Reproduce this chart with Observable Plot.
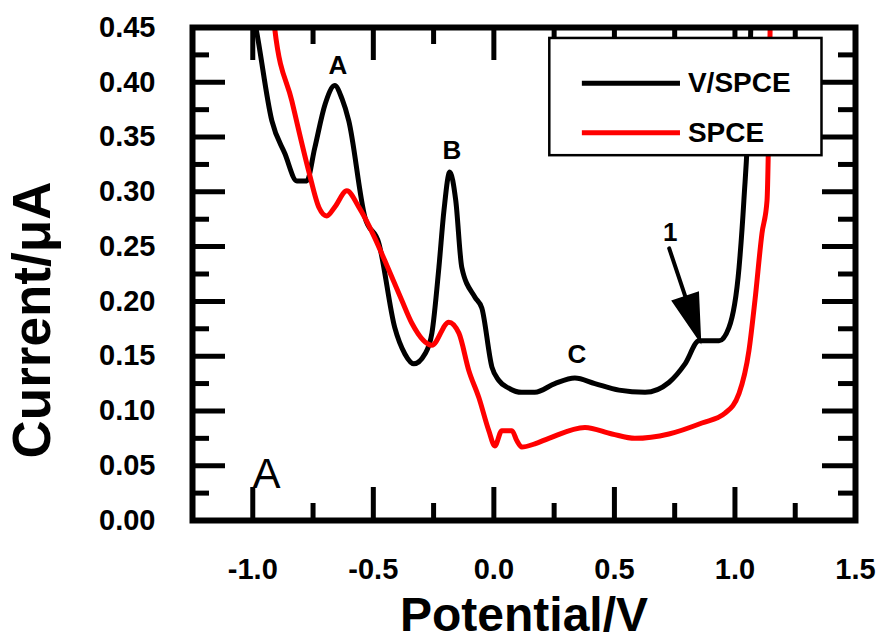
<!DOCTYPE html>
<html>
<head>
<meta charset="utf-8">
<script src="https://cdn.jsdelivr.net/npm/d3@7"></script>
<script src="https://cdn.jsdelivr.net/npm/@observablehq/plot@0.6"></script>
<style>
  html, body { margin: 0; padding: 0; background: #fff; }
</style>
</head>
<body>
<div id="chart"></div>
<script>
// ---- Data ----
const seriesNames = ["V/SPCE", "SPCE"];
const seriesColors = ["#000000", "#ff0000"];

const vspceX = [-1.0, -0.983, -0.921, -0.867, -0.817, -0.776, -0.743, -0.700, -0.660, -0.630, -0.602, -0.535, -0.477, -0.411, -0.369, -0.332, -0.286, -0.257, -0.228, -0.207, -0.183, -0.158, -0.133, -0.079, -0.050, -0.008, 0.020, 0.060, 0.116, 0.170, 0.253, 0.336, 0.419, 0.519, 0.627, 0.726, 0.793, 0.851, 0.934, 0.975, 1.017, 1.037, 1.058, 1.068];
const vspceY = [0.465, 0.445, 0.365, 0.335, 0.310, 0.310, 0.340, 0.380, 0.397, 0.385, 0.365, 0.277, 0.253, 0.176, 0.152, 0.143, 0.152, 0.171, 0.231, 0.283, 0.318, 0.292, 0.231, 0.204, 0.194, 0.140, 0.128, 0.121, 0.117, 0.117, 0.125, 0.130, 0.125, 0.119, 0.117, 0.126, 0.143, 0.164, 0.164, 0.176, 0.231, 0.292, 0.383, 0.470];

const spceX = [-0.915, -0.909, -0.838, -0.768, -0.726, -0.693, -0.660, -0.610, -0.560, -0.494, -0.452, -0.382, -0.340, -0.257, -0.187, -0.145, -0.104, -0.062, -0.021, 0.004, 0.033, 0.075, 0.095, 0.116, 0.170, 0.228, 0.378, 0.490, 0.585, 0.726, 0.863, 0.959, 1.017, 1.058, 1.083, 1.112, 1.133, 1.147];
const spceY = [0.470, 0.449, 0.383, 0.319, 0.286, 0.278, 0.286, 0.301, 0.286, 0.258, 0.237, 0.201, 0.180, 0.160, 0.181, 0.171, 0.137, 0.112, 0.082, 0.068, 0.082, 0.082, 0.073, 0.067, 0.070, 0.075, 0.085, 0.079, 0.075, 0.079, 0.089, 0.098, 0.116, 0.155, 0.201, 0.262, 0.292, 0.470];

const xMajorTicks = [-1.0, -0.5, 0.0, 0.5, 1.0, 1.5];
const xMinorTicks = [-0.75, -0.25, 0.25, 0.75, 1.25];
const yMajorTicks = [0, 0.05, 0.10, 0.15, 0.20, 0.25, 0.30, 0.35, 0.40, 0.45];
const yMinorTicks = [0.025, 0.075, 0.125, 0.175, 0.225, 0.275, 0.325, 0.375, 0.425];

const peakLabels = ["A", "B", "C", "1"];
const peakLabelX = [-0.647, -0.174, 0.344, 0.732];
const peakLabelY = [0.415, 0.338, 0.151, 0.263];

const arrowTo = {x: 0.851, y: 0.167};

const xTitle = "Potential/V";
const yTitle = "Current/\u03bcA";
const panelLabel = "A";

// ---- Build tables ----
const curves = [
  ...vspceX.map((x, i) => ({series: seriesNames[0], x, y: vspceY[i]})),
  ...spceX.map((x, i) => ({series: seriesNames[1], x, y: spceY[i]}))
];
const peaks = peakLabels.map((t, i) => ({t, x: peakLabelX[i], y: peakLabelY[i]}));

// layout constants
const W = 881, H = 644;
const mL = 192, mR = 26, mT = 27, mB = 124;
const innerW = W - mL - mR, innerH = H - mT - mB;
const majorLen = 33, minorLen = 17;
const font = "'Liberation Sans', Arial, Helvetica, sans-serif";

const legendBox = {x1: 0.232, x2: 1.361, y1: 0.333, y2: 0.440};
const legendLineX = [0.365, 0.772];
const legendTextX = 0.805;
const legendRowY = [0.399, 0.354];
const legendRows = seriesNames.map((s, i) => ({s, c: seriesColors[i], y: legendRowY[i]}));

const arrowHead = {
  draw(context, l, r) {
    const h = 42, w = 12;
    context.moveTo(0, 0);
    context.lineTo(0, -l + h * 0.8);
    context.moveTo(0, -l);
    context.lineTo(-w, -l + h);
    context.lineTo(w, -l + h);
    context.closePath();
  }
};

const chart = Plot.plot({
  width: W,
  height: H,
  marginLeft: mL, marginRight: mR, marginTop: mT, marginBottom: mB,
  style: {fontFamily: font, background: "#fff", color: "#000"},
  x: {domain: [-1.25, 1.5], axis: null},
  y: {domain: [0, 0.45], axis: null},
  marks: [
    // curves
    Plot.line(curves.filter(d => d.series === seriesNames[0]), {x: "x", y: "y", stroke: seriesColors[0], strokeWidth: 5, clip: true, curve: "monotone-x", strokeLinejoin: "round"}),
    Plot.line(curves.filter(d => d.series === seriesNames[1]), {x: "x", y: "y", stroke: seriesColors[1], strokeWidth: 5, clip: true, curve: "monotone-x", strokeLinejoin: "round"}),
    // inward ticks: bottom/top
    Plot.tickX(xMajorTicks, {x: d => d, insetTop: innerH - majorLen, strokeWidth: 5}),
    Plot.tickX(xMinorTicks, {x: d => d, insetTop: innerH - minorLen, strokeWidth: 5}),
    Plot.tickX(xMajorTicks, {x: d => d, insetBottom: innerH - majorLen, strokeWidth: 5}),
    Plot.tickX(xMinorTicks, {x: d => d, insetBottom: innerH - minorLen, strokeWidth: 5}),
    // inward ticks: left/right
    Plot.tickY(yMajorTicks, {y: d => d, insetRight: innerW - majorLen, strokeWidth: 5}),
    Plot.tickY(yMinorTicks, {y: d => d, insetRight: innerW - minorLen, strokeWidth: 5}),
    Plot.tickY(yMajorTicks, {y: d => d, insetLeft: innerW - majorLen, strokeWidth: 5}),
    Plot.tickY(yMinorTicks, {y: d => d, insetLeft: innerW - minorLen, strokeWidth: 5}),
    Plot.frame({stroke: "#000", strokeWidth: 6}),
    // tick labels
    Plot.axisX(xMajorTicks, {anchor: "bottom", tickSize: 0, tickPadding: 38, fontSize: 29, fontWeight: "bold", tickFormat: d => d.toFixed(1), label: null}),
    Plot.axisY(yMajorTicks, {anchor: "left", tickSize: 0, tickPadding: 37, fontSize: 29, fontWeight: "bold", tickFormat: d => d.toFixed(2), label: null}),
    // axis titles
    Plot.text([xTitle], {frameAnchor: "bottom", text: d => d, dy: 95, lineAnchor: "middle", textAnchor: "middle", fontSize: 48, fontWeight: "bold"}),
    Plot.text([yTitle], {frameAnchor: "left", text: d => d, dx: -159, dy: 46, rotate: -90, lineAnchor: "middle", textAnchor: "middle", fontSize: 53, fontWeight: "bold"}),
    // peak labels
    Plot.text(peaks, {x: "x", y: "y", text: "t", fontSize: 26, fontWeight: "bold"}),
    // arrow
    Plot.vector([arrowTo], {x: "x", y: "y", length: 94, rotate: 161.5, anchor: "end", shape: arrowHead, stroke: "#000", fill: "#000", strokeWidth: 4, strokeLinejoin: "miter"}),
    // panel label
    Plot.text([panelLabel], {frameAnchor: "bottom-left", text: d => d, dx: 74, dy: -46, lineAnchor: "middle", textAnchor: "middle", fontSize: 42}),
    // legend
    Plot.rect([legendBox], {x1: "x1", x2: "x2", y1: "y1", y2: "y2", fill: "#fff", stroke: "#000", strokeWidth: 2.5}),
    Plot.link(legendRows, {x1: legendLineX[0], x2: legendLineX[1], y1: "y", y2: "y", stroke: "c", strokeWidth: 5}),
    Plot.text(legendRows, {x: legendTextX, y: "y", text: "s", textAnchor: "start", fontSize: 28, fontWeight: "bold"})
  ]
});
document.getElementById("chart").appendChild(chart);
</script>
</body>
</html>
